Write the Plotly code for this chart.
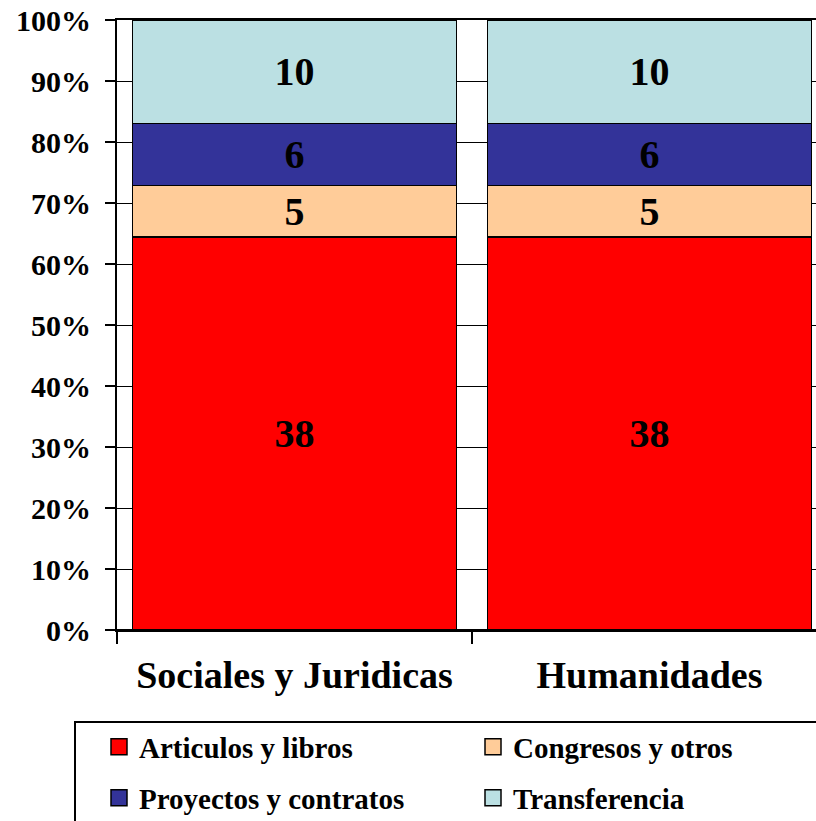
import plotly.graph_objects as go

categories = ["Sociales y Juridicas", "Humanidades"]
series_names = ["Articulos y libros", "Congresos y otros", "Proyectos y contratos", "Transferencia"]
articulos = [38, 38]
congresos = [5, 5]
proyectos = [6, 6]
transferencia = [10, 10]
colors = ["#FF0000", "#FFCC99", "#333399", "#BBE0E3"]
y_ticks = [0, 10, 20, 30, 40, 50, 60, 70, 80, 90, 100]

FONT = "Liberation Serif"
W, H = 816, 821
ML, MR, MT, MB = 117, 0, 20, 191
PW = W - ML - MR
PH = H - MT - MB
CAT_PX = 355.0

def px_x(p):
    return (p - ML) / PW

def px_y(p):
    return (H - MB - p) / PH

fig = go.Figure()
all_vals = [articulos, congresos, proyectos, transferencia]
for name, vals, col in zip(series_names, all_vals, colors):
    fig.add_trace(go.Bar(
        x=categories, y=vals, name=name, text=vals,
        texttemplate="<b>%{text}</b>", textposition="inside",
        insidetextanchor="middle", textangle=0, constraintext="none",
        textfont=dict(family=FONT, size=40, color="black"),
        marker=dict(color=col, line=dict(color="black", width=1.5)),
        showlegend=False,
    ))

# legend entries: one legend per item, laid out in 2 columns x 2 rows
legend_ids = ["legend", "legend2", "legend3", "legend4"]
legend_pos = [(99, 747), (473, 747), (99, 798), (473, 798)]
legend_layout = {}
for name, col, lg, (lx, ly) in zip(series_names, colors, legend_ids, legend_pos):
    fig.add_trace(go.Scatter(
        x=[None], y=[None], mode="markers", name=f"<b>{name}</b>", legend=lg,
        marker=dict(symbol="square", size=16, color=col, line=dict(color="black", width=1.5)),
        showlegend=True,
    ))
    legend_layout[lg] = dict(
        xref="container", yref="container",
        x=lx / W, xanchor="left", y=(H - ly) / H, yanchor="middle",
        orientation="h",
        font=dict(family=FONT, size=29, color="black"), bgcolor="rgba(0,0,0,0)",
        borderwidth=0,
    )

fig.update_layout(
    width=W, height=H,
    margin=dict(l=ML, r=MR, t=MT, b=MB, pad=0, autoexpand=False),
    paper_bgcolor="white", plot_bgcolor="white",
    barmode="stack", barnorm="percent", bargap=31 / CAT_PX,
    font=dict(family=FONT, color="black"),
    xaxis=dict(
        type="category", categoryorder="array", categoryarray=categories,
        range=[-0.5, -0.5 + PW / CAT_PX], automargin=False,
        tickson="boundaries", ticks="outside", ticklen=12, tickwidth=2, tickcolor="black",
        showline=True, linecolor="black", linewidth=2, mirror=True,
        showgrid=False,
        tickfont=dict(family=FONT, size=38, color="black"),
        ticklabelstandoff=10,
        tickprefix="<b>", ticksuffix="</b>",
    ),
    yaxis=dict(
        range=[0, 100], tickmode="array", tickvals=y_ticks, automargin=False,
        ticktext=[f"<b>{v}%</b>" for v in y_ticks],
        ticks="outside", ticklen=10, tickwidth=2, tickcolor="black",
        showline=True, linecolor="black", linewidth=2,
        showgrid=True, gridcolor="black", gridwidth=1.2,
        zeroline=True, zerolinecolor="black", zerolinewidth=2,
        tickfont=dict(family=FONT, size=30, color="black"),
        ticklabelstandoff=8,
    ),
    shapes=[dict(
        type="rect", xref="paper", yref="paper",
        x0=px_x(75), x1=px_x(900), y0=px_y(722), y1=px_y(900),
        line=dict(color="black", width=2), fillcolor="rgba(0,0,0,0)", layer="below",
    )],
    **legend_layout,
)

fig.write_html(
    "out.html",
    config={"displayModeBar": False},
    post_script="document.body.style.margin='0px';document.body.style.overflow='hidden';",
)
